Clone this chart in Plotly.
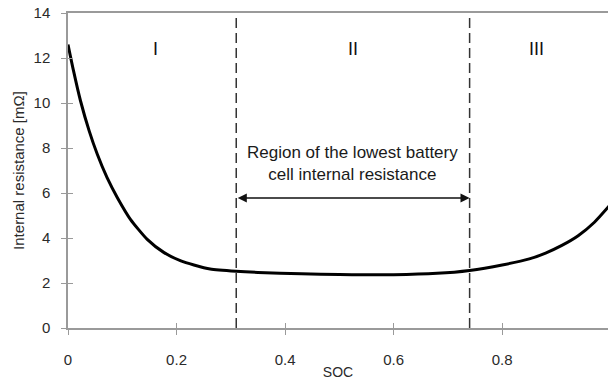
import plotly.graph_objects as go

# Data
soc = [0, 0.01, 0.023, 0.039, 0.054, 0.072, 0.091, 0.115, 0.146, 0.177, 0.208, 0.232,
       0.262, 0.31, 0.35, 0.43, 0.5, 0.6, 0.68, 0.74, 0.8, 0.85, 0.88, 0.91, 0.94,
       0.97, 1.0]
resistance = [12.6, 11.45, 10.1, 8.76, 7.72, 6.68, 5.79, 4.83, 3.94, 3.35, 2.98, 2.8,
              2.62, 2.52, 2.47, 2.41, 2.38, 2.37, 2.43, 2.56, 2.8, 3.07, 3.33, 3.67, 4.1,
              4.7, 5.5]
region_bounds = [0.31, 0.74]
region_labels = ["I", "II", "III"]
region_label_x = [0.162, 0.526, 0.863]
x_ticks = [0, 0.2, 0.4, 0.6, 0.8]
x_ticktext = ["0", "0.2", "0.4", "0.6", "0.8"]
y_ticks = [0, 2, 4, 6, 8, 10, 12, 14]

FONT = "Liberation Sans, Arial, sans-serif"
AXC = "#9a9a9a"
TXT = "#2a2a2a"

fig = go.Figure()
fig.add_trace(go.Scatter(x=soc, y=resistance, mode="lines",
                         line=dict(color="black", width=3, shape="spline", smoothing=0.6),
                         showlegend=False, hoverinfo="skip"))
# invisible trace for overlay axes
fig.add_trace(go.Scatter(x=[0], y=[0], xaxis="x2", yaxis="y2", mode="markers",
                         marker=dict(opacity=0), showlegend=False, hoverinfo="skip"))

for xb in region_bounds:
    fig.add_shape(type="line", x0=xb, x1=xb, y0=0, y1=14, xref="x", yref="y",
                  line=dict(color="#333333", width=1.5, dash="10px,5px"), layer="above")

for lab, lx in zip(region_labels, region_label_x):
    fig.add_annotation(x=lx, y=12.4, text=lab, showarrow=False, xref="x", yref="y",
                       font=dict(family=FONT, size=18, color="#111111"))

# double-headed arrow
fig.add_annotation(x=region_bounds[1], y=5.78, ax=region_bounds[0], ay=5.78,
                   xref="x", yref="y", axref="x", ayref="y", text="",
                   showarrow=True, arrowhead=2, arrowside="end+start",
                   arrowsize=1.3, arrowwidth=1.4, arrowcolor="#111111",
                   startarrowhead=2, startarrowsize=1.3)
fig.add_annotation(x=0.525, y=7.3, xref="x", yref="y",
                   text="Region of the lowest battery<br>cell internal resistance",
                   showarrow=False, align="center",
                   font=dict(family=FONT, size=17, color="#1a1a1a"))

xr = [0, 0.995]
yr = [0, 14]
fig.update_layout(
    width=608, height=380,
    margin=dict(l=68, r=0, t=13, b=52),
    paper_bgcolor="white", plot_bgcolor="white",
    font=dict(family=FONT, size=14, color=TXT),
    xaxis=dict(range=xr, tickvals=x_ticks, ticktext=x_ticktext, automargin=False,
               showline=True, linecolor=AXC, linewidth=1.5, mirror=True,
               ticks="outside", ticklen=5, tickcolor=AXC, tickwidth=1,
               showgrid=False, zeroline=False, ticklabelstandoff=12,
               tickfont=dict(family=FONT, size=15, color=TXT),
               title=dict(text="SOC", standoff=5,
                          font=dict(family=FONT, size=14, color=TXT))),
    yaxis=dict(range=yr, tickvals=y_ticks, automargin=False,
               showline=True, linecolor=AXC, linewidth=1.5,
               ticks="outside", ticklen=5, tickcolor=AXC, tickwidth=1,
               showgrid=False, zeroline=False, ticklabelstandoff=8,
               tickfont=dict(family=FONT, size=15, color=TXT),
               title=dict(text="Internal resistance [mΩ]", standoff=5,
                          font=dict(family=FONT, size=15, color=TXT))),
    xaxis2=dict(range=xr, overlaying="x", anchor="y", side="bottom", automargin=False,
                tickvals=x_ticks, ticks="inside", ticklen=5, tickcolor=AXC,
                showticklabels=False, showline=False, showgrid=False, zeroline=False),
    yaxis2=dict(range=yr, overlaying="y", anchor="x", side="left", automargin=False,
                tickvals=y_ticks, ticks="inside", ticklen=5, tickcolor=AXC,
                showticklabels=False, showline=False, showgrid=False, zeroline=False),
)

fig.write_html("out.html")
